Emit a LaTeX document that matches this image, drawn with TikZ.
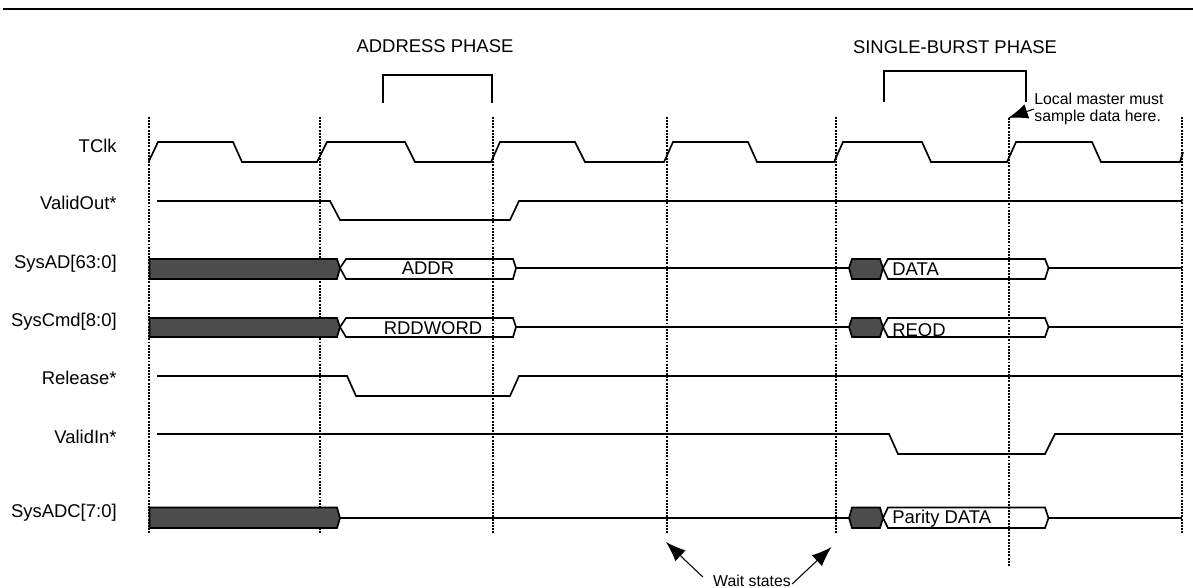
\documentclass[tikz,border=0pt]{standalone}
\usepackage{fontspec}
\setmainfont{Liberation Sans}
\usetikzlibrary{arrows.meta}

\begin{document}
\begin{tikzpicture}[
    x=0.02cm, y=-0.02cm,
    signal/.style={draw, line width=0.95pt, line join=miter},
    clockline/.style={draw, line width=0.7pt, dash pattern=on 1.1pt off 0.7pt},
    busbar/.style={draw, line width=0.95pt, fill=black!70},
    label/.style={anchor=east, inner sep=0pt, font=\fontsize{10.5}{12.6}\selectfont},
    heading/.style={inner sep=0pt, font=\fontsize{10.5}{12.6}\selectfont},
    note/.style={inner sep=0pt, font=\fontsize{9}{9.8}\selectfont, align=left},
    pointer/.style={draw, line width=0.6pt, -{Latex[length=20*0.5669pt, width=15*0.5669pt]}}
]
\useasboundingbox (0,0) rectangle (1193,588);
\draw[line width=1.6pt] (3,9) -- (1193,9);

% clock edges
\foreach \x in {149,320,493,667,836,1182}
    \draw[clockline] (\x,117) -- (\x,533);
\coordinate (sampletip) at (1008,118);
\draw[clockline] (1009,118) -- (1009,566);

\node[heading] (addrphase) at (435,46) {ADDRESS PHASE};
\node[heading] (burstphase) at (955,47) {SINGLE-BURST PHASE};
\draw[signal] (383,103) |- (492,75) -- (492,103);
\draw[signal] (884,102) |- (1026,71) -- (1026,102);

\node[label] (tclk) at (117,146) {TClk};
\node[label] (validout) at (117,203) {ValidOut*};
\node[label] (sysad) at (117,264) {SysAD[63:0]};
\node[label] (syscmd) at (117,322) {SysCmd[8:0]};
\node[label] (release) at (117,378) {Release*};
\node[label] (validin) at (117,437) {ValidIn*};
\node[label] (sysadc) at (117,513) {SysADC[7:0]};

% clock
\draw[signal] (149,161) -- (158,142) -- (233,142) -- (242,162) -- (317,162) -- (327,142)
    -- (405,142) -- (415,162) -- (491,162) -- (500,142) -- (575,142) -- (585,162)
    -- (664,162) -- (673,142) -- (748,142) -- (757,162) -- (834,162) -- (843,142)
    -- (922,142) -- (931,162) -- (1007,162) -- (1016,142) -- (1092,142) -- (1101,162)
    -- (1180,162) -- (1183,152);

% control lines
\draw[signal] (157,201) -- (330,201) -- (340,220) -- (510,220) -- (519,201) -- (1182,201);
\draw[signal] (157,376) -- (347,376) -- (356,396) -- (510,396) -- (519,376) -- (1182,376);
\draw[signal] (157,434) -- (889,434) -- (898,454) -- (1045,454) -- (1055,434) -- (1182,434);

% buses
\foreach \yt/\ym/\yb in {259/268/279, 318/327/337, 507.5/518/528} {
    \draw[busbar] (149.5,\yt) -- (337,\yt) -- (340,\ym) -- (337,\yb) -- (149.5,\yb) -- cycle;
    \draw[busbar] (849,\ym) -- (852,\yt) -- (880,\yt) -- (883,\ym) -- (880,\yb) -- (852,\yb) -- cycle;
    \draw[signal] (883,\ym) -- (888,\yt) -- (1045,\yt) -- (1048.5,\ym) -- (1045,\yb) -- (888,\yb) -- cycle;
    \draw[signal] (1048.5,\ym) -- (1182,\ym);
}
\foreach \yt/\ym/\yb in {259/268/279, 318/327/337} {
    \draw[signal] (340,\ym) -- (346,\yt) -- (513,\yt) -- (516,\ym) -- (513,\yb) -- (346,\yb) -- cycle;
    \draw[signal] (516,\ym) -- (849,\ym);
}
\draw[signal] (340,518) -- (849,518);

\node[heading] (addrval) at (428,268) {ADDR};
\node[heading] (cmdval) at (433,328) {RDDWORD};
\node[heading, anchor=west] (dataval) at (892,269) {DATA};
\node[heading, anchor=west] (reodval) at (892,330) {REOD};
\node[heading, anchor=west] (parityval) at (892,519) {Parity DATA};

% callouts
\node[note, anchor=west] (sample) at (1034,109) {Local master must\\sample data here.};
\draw[pointer] (sample.west) -- (sampletip);

\node[note] (wait) at (752,581) {Wait states};
\coordinate (waitleft) at (666,542);
\coordinate (waitright) at (831.5,547);
\draw[pointer] ([shift={(-10,-4)}]wait.west) -- (waitleft);
\draw[pointer] ([shift={(1,3)}]wait.east) -- (waitright);
\end{tikzpicture}
\end{document}
